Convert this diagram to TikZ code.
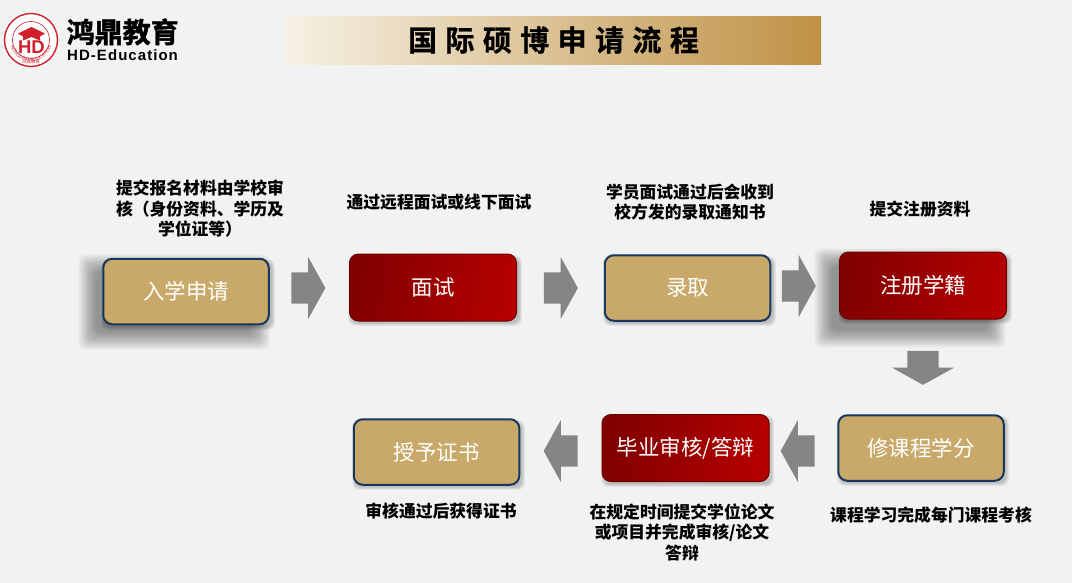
\documentclass[tikz,border=0pt]{standalone}
\usepackage{fontspec}
\setmainfont{Liberation Sans}
\newfontfamily\cjk{Noto Sans CJK SC}
\newfontfamily\cjktitle[LetterSpace=29,FakeBold=0.8]{Noto Sans CJK SC Bold}
\newfontfamily\cjklogo[FakeBold=1.6]{Noto Sans CJK SC Bold}
\newfontfamily\latinspaced[LetterSpace=7]{Liberation Sans}
\usetikzlibrary{shapes.arrows,decorations.text}
\definecolor{pagebg}{HTML}{F1F3F2}
\definecolor{tanfill}{HTML}{C8A969}
\definecolor{navyline}{HTML}{17375E}
\definecolor{reddark}{HTML}{820000}
\definecolor{redlight}{HTML}{B40000}
\definecolor{bannerstart}{HTML}{F6F1E4}
\definecolor{bannermid}{HTML}{E2CEA7}
\definecolor{bannerend}{HTML}{BF9145}
\definecolor{arrowgray}{HTML}{858585}
\definecolor{logored}{HTML}{D0202C}
\tikzset{
  tanbox/.style={draw=navyline,line width=2pt,fill=tanfill,rounded corners=9pt,text=white,
    font=\cjk\fontsize{21.5}{26}\selectfont,minimum width=165.5pt,minimum height=65.5pt,inner sep=0pt},
  redbox/.style={draw=reddark!85!black,line width=1pt,left color=reddark,right color=redlight,
    shading angle=80,rounded corners=9pt,text=white,
    font=\cjk\fontsize{21.5}{26}\selectfont,minimum width=167pt,minimum height=67pt,inner sep=0pt},
  note/.style={align=center,text=black,font=\cjk\bfseries\fontsize{16.8}{20.5}\selectfont,inner sep=0pt},
  blockarrow/.style={single arrow,fill=arrowgray,draw=none,inner sep=0pt,
    minimum height=34pt,single arrow head extend=15.5pt,
    single arrow tip angle=122,single arrow head indent=0pt,rotate=#1},
  blockarrow/.default=0
}
% #1..#4 core rectangle, #5 spread, #6 layers, #7 opacity of a layer
\newcommand{\softshadow}[7]{%
  \foreach \k in {0,...,#6}{%
    \pgfmathsetmacro{\spread}{#5*(1-\k/#6)}
    \fill[black,opacity=#7,rounded corners=7pt]
      (#1-\spread,#2-\spread) rectangle (#3+\spread,#4+\spread);
  }}
\newcommand{\shaft}{\rule{0pt}{31pt}}
\begin{document}
\begin{tikzpicture}[x=1pt,y=-1pt]
\fill[pagebg] (0,0) rectangle (1072,583);
\useasboundingbox (0,0) rectangle (1072,583);

% logo
\node[circle,draw=logored,line width=1.4pt,fill=white,minimum size=53pt,inner sep=0pt] (logoring) at (31,40) {};
\node[circle,draw=logored,line width=.6pt,minimum size=37pt,inner sep=0pt] (logoinner) at (31,40) {};
\fill[logored] (31.5,27)--(45,33.5)--(40,36.5)--(40,40.5)--(31.5,37)--(23,40.5)--(23,36.5)--(18,33.5)--cycle;
\node[text=logored,font=\bfseries\fontsize{18.5}{18}\selectfont,inner sep=0pt] (logohd) at (31.5,47) {HD};
\path[postaction={decorate,decoration={text along path,text align=center,
   text={|\fontsize{4.6}{5}\selectfont\color{logored}|HONGDING EDUCATION}}}]
   (9.5,40) arc[start angle=180,end angle=360,radius=21.5pt];
\node[text=logored,font=\cjk\fontsize{4.5}{5}\selectfont,inner sep=0pt] (logocn) at (31,61.5) {鸿鼎教育};
\node[anchor=west,inner sep=0pt,font=\cjklogo\fontsize{28}{30}\selectfont] (logotext) at (66.5,32) {鸿鼎教育};
\node[anchor=west,inner sep=0pt,font=\latinspaced\bfseries\fontsize{15}{16}\selectfont] (logolatin) at (67,55) {HD-Education};

% banner
\shade[left color=bannerstart,middle color=bannermid,right color=bannerend] (285,17) rectangle (821,65);
\node[inner sep=0pt,font=\cjktitle\fontsize{29}{32}\selectfont] (title) at (553.5,40) {国际硕博申请流程};

% shadows
\softshadow{96}{272}{252}{332}{18}{26}{0.017}
\softshadow{832}{266}{988}{330}{18}{26}{0.017}
\foreach \xa/\ya/\xb/\yb in {102/258/270/325,349/254/517/321,604/255/771/321,839/252/1007/319,838/415/1004/481,602/414/769/482,353/419/520/485}{
  \softshadow{\xa+2}{\ya+4}{\xb+2}{\yb+2}{3}{6}{0.03}
}

% boxes
\node[tanbox] (apply) at (186,291.5) {入学申请};
\node[redbox] (interview) at (433,287.5) {面试};
\node[tanbox] (admit) at (687.5,288) {录取};
\node[redbox] (register) at (923,285.5) {注册学籍};
\node[tanbox] (credits) at (921,448) {修课程学分};
\node[redbox] (defense) at (685.5,448) {毕业审核/答辩};
\node[tanbox] (degree) at (436.5,452) {授予证书};

% block arrows
\node[blockarrow=0] (ar1) at (304,288) {\shaft};
\node[blockarrow=0] (ar2) at (556.5,288) {\shaft};
\node[blockarrow=0] (ar3) at (794.5,286) {\shaft};
\node[blockarrow=-90] (ar4) at (923,363.5) {\shaft};
\node[blockarrow=180] (ar5) at (802,451) {\shaft};
\node[blockarrow=180] (ar6) at (565,451) {\shaft};

% notes
\node[note] (n1) at (200,209) {提交报名材料由学校审\\核（身份资料、学历及\\学位证等）};
\node[note] (n2) at (439,202) {通过远程面试或线下面试};
\node[note] (n3) at (690,202) {学员面试通过后会收到\\校方发的录取通知书};
\node[note] (n4) at (920,209) {提交注册资料};
\node[note] (n5) at (441,511.5) {审核通过后获得证书};
\node[note] (n6) at (682,532) {在规定时间提交学位论文\\或项目并完成审核/论文\\答辩};
\node[note] (n7) at (931,515) {课程学习完成每门课程考核};
\end{tikzpicture}
\end{document}
